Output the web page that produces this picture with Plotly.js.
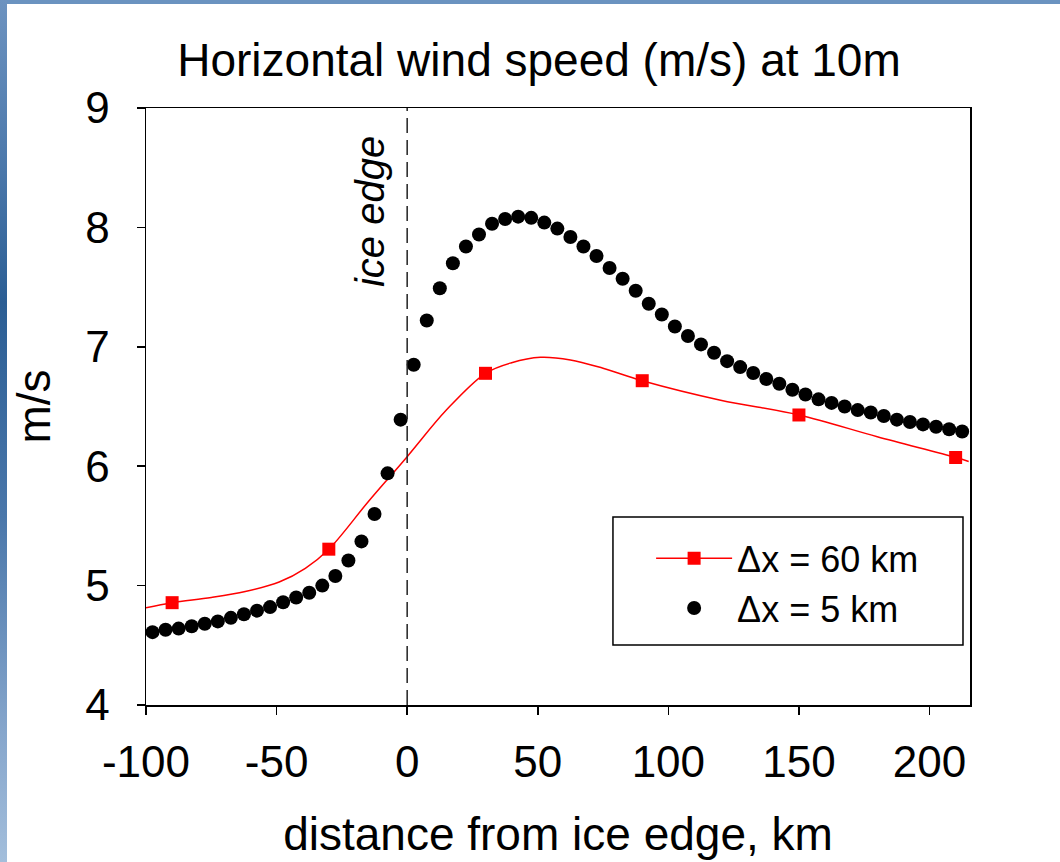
<!DOCTYPE html>
<html>
<head>
<meta charset="utf-8">
<script src="https://cdn.plot.ly/plotly-3.0.1.min.js"></script>
<style>
html,body{margin:0;padding:0;background:#fff;}
#wrap{position:relative;width:1060px;height:862px;overflow:hidden;}
#chart{position:absolute;left:0;top:0;width:1060px;height:862px;}
#topbar{position:absolute;left:0;top:0;width:1060px;height:4px;background:#6b93c0;z-index:5;}
#leftbar{position:absolute;left:0;top:0;width:7px;height:862px;z-index:6;
  background:linear-gradient(to bottom,#6d93c0 0%,#4a77aa 20%,#2b5e94 35%,#4a77aa 60%,#86a6cc 85%,#a3bedb 100%);}
</style>
</head>
<body>
<div id="wrap">
<div id="chart"></div>
<div id="topbar"></div>
<div id="leftbar"></div>
</div>
<script>
// ---- data ----
// dx = 5 km run (black dots)
var x5 = [-97.5,-92.5,-87.5,-82.5,-77.5,-72.5,-67.5,-62.5,-57.5,-52.5,
          -47.5,-42.5,-37.5,-32.5,-27.5,-22.5,-17.5,-12.5,-7.5,-2.5,
          2.5,7.5,12.5,17.5,22.5,27.5,32.5,37.5,42.5,47.5,
          52.5,57.5,62.5,67.5,72.5,77.5,82.5,87.5,92.5,97.5,
          102.5,107.5,112.5,117.5,122.5,127.5,132.5,137.5,142.5,147.5,
          152.5,157.5,162.5,167.5,172.5,177.5,182.5,187.5,192.5,197.5,
          202.5,207.5,212.5];
var y5 = [4.61,4.63,4.64,4.66,4.68,4.70,4.73,4.76,4.79,4.82,
          4.86,4.90,4.94,5.00,5.08,5.21,5.37,5.60,5.94,6.39,
          6.85,7.22,7.49,7.70,7.84,7.94,8.03,8.07,8.09,8.08,
          8.04,7.99,7.92,7.84,7.76,7.66,7.57,7.47,7.36,7.27,
          7.17,7.09,7.02,6.95,6.88,6.83,6.78,6.73,6.69,6.64,
          6.60,6.56,6.53,6.50,6.47,6.45,6.42,6.39,6.37,6.35,
          6.33,6.31,6.29];
// dx = 60 km run (red squares)
var x60 = [-90,-30,30,90,150,210];
var y60 = [4.857,5.305,6.778,6.716,6.429,6.073];
// red smooth curve
var xCurve = [-100,-90,-75,-62,-49,-39,-30,-15,0,15,30,40,51,62.5,75,90,120,150,180,210,215];
var yCurve = [4.815,4.857,4.90,4.95,5.03,5.145,5.305,5.70,6.08,6.47,6.778,6.867,6.912,6.89,6.82,6.716,6.553,6.429,6.247,6.073,6.04];
// axes
var xTicks = [-100,-50,0,50,100,150,200];
var yTicks = [4,5,6,7,8,9];
var names = ["\u0394x = 60 km","\u0394x = 5 km"];

var FONT = "Liberation Sans, Arial, sans-serif";
var RED = "#ff0000";

var traces = [
  {x:xCurve, y:yCurve, type:"scatter", mode:"lines", showlegend:false,
   line:{color:RED, width:1.5, shape:"spline", smoothing:1}, hoverinfo:"skip"},
  {x:x60, y:y60, type:"scatter", mode:"markers", showlegend:false,
   marker:{symbol:"square", size:13, color:RED}},
  {x:[null], y:[null], type:"scatter", mode:"lines+markers", name:names[0],
   line:{color:RED, width:1.5}, marker:{symbol:"square", size:13, color:RED}},
  {x:x5, y:y5, type:"scatter", mode:"markers", name:names[1],
   marker:{symbol:"circle", size:14, color:"#000"}}
];

var layout = {
  width:1060, height:862,
  paper_bgcolor:"#fff", plot_bgcolor:"#fff",
  margin:{l:146, r:90, t:108, b:157},
  font:{family:FONT, color:"#000"},
  title:{text:"Horizontal wind speed (m/s) at 10m", font:{size:46, family:FONT, color:"#000"},
         x:0.5085, xref:"container", xanchor:"center", y:0.93, yref:"container", yanchor:"middle"},
  xaxis:{range:[-100,215.5], tickvals:xTicks, ticktext:xTicks.map(String),
         ticks:"outside", ticklen:8, tickwidth:1.5, tickcolor:"#000",
         showline:true, linecolor:"#000", linewidth:1.5, mirror:true,
         showgrid:false, zeroline:false,
         tickfont:{size:44, family:FONT}, ticklabelstandoff:10,
         title:{text:"distance from ice edge, km", font:{size:46, family:FONT}, standoff:32}},
  yaxis:{range:[4,9], tickvals:yTicks, ticktext:yTicks.map(String),
         ticks:"outside", ticklen:8, tickwidth:1.5, tickcolor:"#000",
         showline:true, linecolor:"#000", linewidth:1.5, mirror:true,
         showgrid:false, zeroline:false,
         tickfont:{size:44, family:FONT}, ticklabelstandoff:18,
         title:{text:"m/s", font:{size:46, family:FONT}, standoff:20}},
  legend:{x:0.613, y:0.296, xanchor:"left", yanchor:"top",
          bgcolor:"rgba(0,0,0,0)", borderwidth:0,
          font:{size:36, family:FONT, color:"#000"},
          itemwidth:76, traceorder:"normal", tracegroupgap:0},
  shapes:[
    {type:"line", xref:"x", yref:"paper", x0:0, x1:0, y0:0, y1:1,
     line:{color:"#222", width:1.5, dash:"15px,7px"}},
    {type:"rect", xref:"paper", yref:"paper", x0:0.5667, x1:0.9915, y0:0.1005, y1:0.3149,
     line:{color:"#000", width:1.5}, fillcolor:"rgba(0,0,0,0)", layer:"above"}
  ],
  annotations:[
    {text:"<i>ice edge</i>", xref:"x", yref:"paper", x:0, y:0.826, xshift:-37,
     showarrow:false, textangle:-90, font:{size:40, family:FONT, color:"#000"},
     xanchor:"center", yanchor:"middle"}
  ]
};

Plotly.newPlot("chart", traces, layout, {staticPlot:true, displayModeBar:false});
</script>
</body>
</html>
